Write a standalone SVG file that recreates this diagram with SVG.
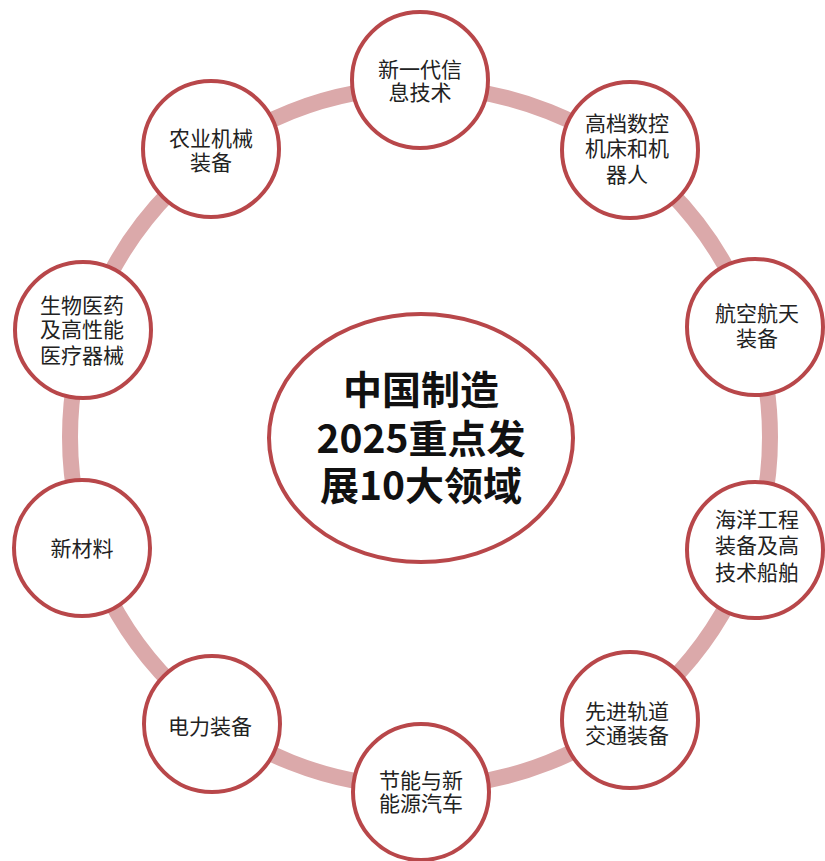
<svg xmlns="http://www.w3.org/2000/svg" width="825" height="861" viewBox="0 0 825 861">
<style>
.bg{fill:#ffffff}
.ring{fill:none;stroke:#dba9aa;stroke-width:16}
.node circle{fill:#ffffff;stroke:#b8474a;stroke-width:4}
.node text{font-family:"Noto Sans CJK SC","Microsoft YaHei",sans-serif;font-size:21px;fill:#222222;text-anchor:middle;dominant-baseline:central}
.hub ellipse{fill:#ffffff;stroke:#b8474a;stroke-width:4}
.hub text{font-family:"Noto Sans CJK SC",sans-serif;font-size:39px;font-weight:bold;fill:#111111;text-anchor:middle;dominant-baseline:central}
</style>
<rect class="bg" x="0" y="0" width="825" height="861"/>
<g id="connectors">
<circle class="ring" cx="420" cy="437" r="350"/>
</g>
<g id="hub" class="hub">
<ellipse cx="421" cy="438" rx="152" ry="124"/>
<text x="421" y="387">中国制造</text>
<text x="421" y="436">2025重点发</text>
<text x="421" y="483">展10大领域</text>
</g>
<g id="n1" class="node">
<circle cx="420" cy="80" r="68"/>
<text x="420" y="67.5">新一代信</text>
<text x="420" y="91">息技术</text>
</g>
<g id="n2" class="node">
<circle cx="630" cy="150" r="68"/>
<text x="627" y="122">高档数控</text>
<text x="627" y="147">机床和机</text>
<text x="627" y="173">器人</text>
</g>
<g id="n3" class="node">
<circle cx="755" cy="327" r="68"/>
<text x="757" y="312">航空航天</text>
<text x="757" y="337">装备</text>
</g>
<g id="n4" class="node">
<circle cx="755" cy="550" r="68"/>
<text x="757" y="518">海洋工程</text>
<text x="757" y="544">装备及高</text>
<text x="757" y="571">技术船舶</text>
</g>
<g id="n5" class="node">
<circle cx="630" cy="720" r="68"/>
<text x="627" y="710">先进轨道</text>
<text x="627" y="734">交通装备</text>
</g>
<g id="n6" class="node">
<circle cx="421" cy="792" r="68"/>
<text x="421" y="779">节能与新</text>
<text x="421" y="802">能源汽车</text>
</g>
<g id="n7" class="node">
<circle cx="212" cy="724" r="68"/>
<text x="210" y="725">电力装备</text>
</g>
<g id="n8" class="node">
<circle cx="82" cy="548" r="68"/>
<text x="82" y="547">新材料</text>
</g>
<g id="n9" class="node">
<circle cx="83" cy="330" r="68"/>
<text x="82" y="303.5">生物医药</text>
<text x="82" y="328">及高性能</text>
<text x="82" y="353.5">医疗器械</text>
</g>
<g id="n10" class="node">
<circle cx="211" cy="149" r="68"/>
<text x="211" y="137">农业机械</text>
<text x="211" y="161">装备</text>
</g>
</svg>
